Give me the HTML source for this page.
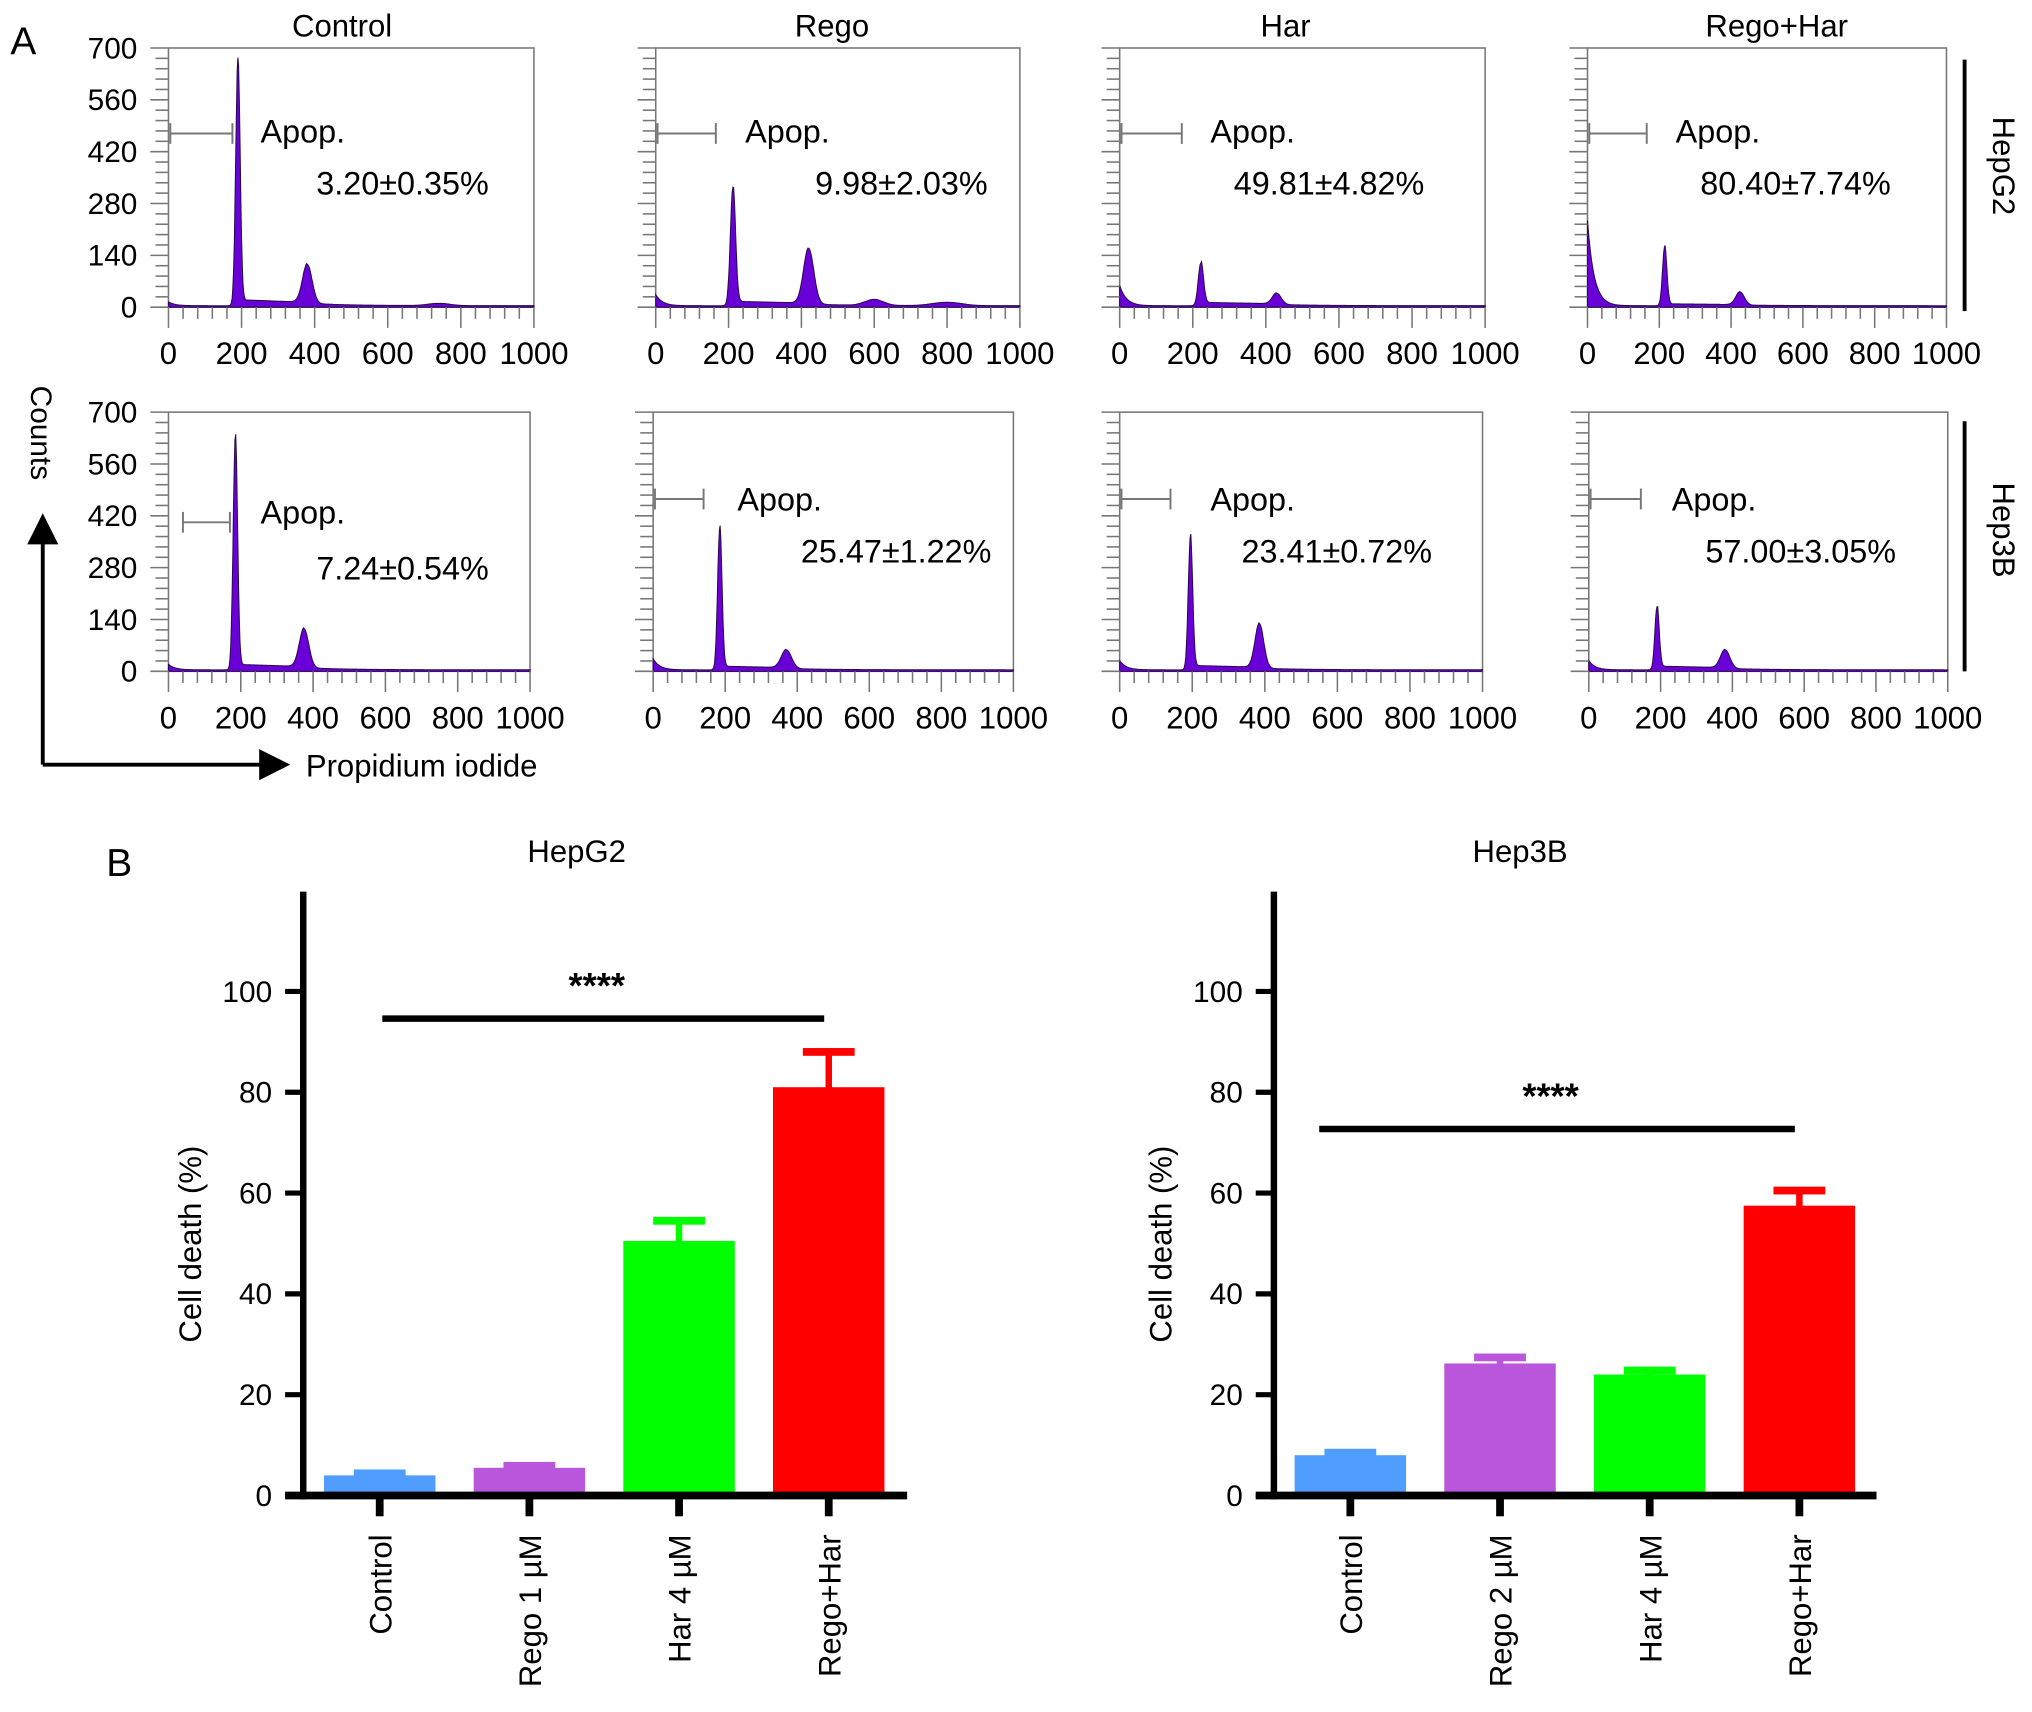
<!DOCTYPE html>
<html><head><meta charset="utf-8">
<style>
html,body{margin:0;padding:0;background:#fff;}
svg{display:block;font-family:"Liberation Sans",Arial,sans-serif;}
</style></head>
<body>
<svg id="fig" width="2032" height="1712" viewBox="0 0 1568 1321" xmlns="http://www.w3.org/2000/svg">
<defs><marker id="arr" markerWidth="8" markerHeight="8" refX="6" refY="4" orient="auto"><path d="M0,0 L8,4 L0,8 z" fill="#000"/></marker></defs>
<text x="8" y="42" font-size="30">A</text>
<text x="82" y="676" font-size="30">B</text>
<text x="264" y="28" font-size="24" text-anchor="middle">Control</text>
<text x="642" y="28" font-size="24" text-anchor="middle">Rego</text>
<text x="992" y="28" font-size="24" text-anchor="middle">Har</text>
<text x="1371" y="28" font-size="24" text-anchor="middle">Rego+Har</text>
<line x1="1516" y1="46" x2="1516" y2="240" stroke="#000" stroke-width="3"/>
<text transform="translate(1538,128) rotate(90)" font-size="24" text-anchor="middle">HepG2</text>
<line x1="1516" y1="325" x2="1516" y2="518" stroke="#000" stroke-width="3"/>
<text transform="translate(1538,409) rotate(90)" font-size="24" text-anchor="middle">Hep3B</text>
<text transform="translate(24,334) rotate(90)" font-size="23" text-anchor="middle">Counts</text>
<path d="M33,590 L33,402" stroke="#000" stroke-width="3" fill="none" marker-end="url(#arr)"/>
<path d="M33,590 L218,590" stroke="#000" stroke-width="3" fill="none" marker-end="url(#arr)"/>
<text x="236" y="599" font-size="24">Propidium iodide</text>
<g id="hists"></g>
<g id="bars"></g>
</svg>
<script>
// ---------- Histogram data (flow cytometry, counts vs PI) ----------
const histTitles = ["Control","Rego","Har","Rego+Har"];
const histApop = ["3.20±0.35%","9.98±2.03%","49.81±4.82%","80.40±7.74%","7.24±0.54%","25.47±1.22%","23.41±0.72%","57.00±3.05%"];
// peaks: [position, height in counts, width]
const histPeaks = [
 [[190,670,6],[380,105,13],[740,6,30]],
 [[212,320,7],[420,150,14],[600,16,25],[800,9,40]],
 [[222,115,7],[430,30,12]],
 [[215,160,6],[425,35,12]],
 [[185,630,6],[375,105,13]],
 [[185,385,6],[370,50,14]],
 [[195,360,6],[385,120,12]],
 [[190,170,6],[380,50,13]]
];
const histDebris = [10,30,55,230,15,30,25,25];   // counts near 0
const histSPhase = [16,12,9,5,15,10,12,10];      // plateau between G1 and G2
const yTicks = [0,140,280,420,560,700];
const xTicks = [0,200,400,600,800,1000];
const gateX = [[5,175],[5,165],[5,170],[5,165],[40,170],[5,140],[5,140],[5,145]];
const panelBoxes = [[130,412,37,237],[506,787,37,237],[864,1146,37,237],[1225,1502,37,237],
                    [130,409,318,518],[504,782,318,518],[864,1144,318,518],[1226,1503,318,518]];
const gateY = [103,103,103,103,403,385,385,385];
const apopPos = [[201,101],[575,101],[934,101],[1293,101],[201,395],[569,385],[934,385],[1290,385]];
const pctPos = [[244,141],[629,141],[952,141],[1312,141],[244,438],[618,425],[958,425],[1316,425]];
const NS="http://www.w3.org/2000/svg";
function mk(tag,attrs,parent){const e=document.createElementNS(NS,tag);for(const k in attrs)e.setAttribute(k,attrs[k]);parent.appendChild(e);return e;}
const hg=document.getElementById('hists');
panelBoxes.forEach((b,i)=>{
  const [x0,x1,y0,y1]=b;
  const sx=v=>x0+(x1-x0)*v/1000, sy=v=>y1-(y1-y0)*v/700;
  const g=mk('g',{},hg);
  
  
  const box=mk('rect',{x:x0,y:y0,width:x1-x0,height:y1-y0,fill:'none',stroke:'#777','stroke-width':1.2},g);
  
  
  let d='M'+sx(0)+','+sy(0);
  const pk=histPeaks[i];
  const g1=pk[0][0], g2=pk[1][0];
  for(let v=0;v<=1000;v+=2){
    let c=histDebris[i]*Math.exp(-v/18)+4;
    if(v>g1&&v<g2) c+=histSPhase[i]*(1-0.4*(v-g1)/(g2-g1));
    if(v>=g2) c+=histSPhase[i]*0.4*Math.exp(-(v-g2)/120);
    pk.forEach(p=>{c+=p[1]*Math.exp(-0.5*Math.pow((v-p[0])/p[2],2));});
    c=Math.min(c,700);
    d+=' L'+sx(v).toFixed(1)+','+sy(c).toFixed(1);
  }
  d+=' L'+sx(1000)+','+sy(0)+' Z';
  const cur=mk('path',{d:d,fill:'#6a00d8',stroke:'#2a0a50','stroke-width':0.8},g);
  
  
  for(let v=0;v<=700;v+=28){mk('line',{x1:x0-(v%140==0?14:10),x2:x0,y1:sy(v),y2:sy(v),stroke:'#777','stroke-width':1.2},g);}
  if(i%4==0) yTicks.forEach(v=>{
    const t=mk('text',{x:x0-24,y:sy(v)+8,'font-size':23,'text-anchor':'end'},g);t.textContent=v;
    });
  for(let v=0;v<=1000;v+=40){mk('line',{x1:sx(v),x2:sx(v),y1:y1,y2:y1+(v%200==0?16:9),stroke:'#777','stroke-width':1.2},g);}
  xTicks.forEach(v=>{
    const t=mk('text',{x:sx(v),y:y1+44,'font-size':24,'text-anchor':'middle'},g);t.textContent=v;
    });
  const gy = gateY[i];
  const ga=sx(gateX[i][0]), gb=sx(gateX[i][1]);
  mk('path',{d:`M${ga},${gy-8}V${gy+8}M${ga},${gy}H${gb}M${gb},${gy-8}V${gy+8}`,stroke:'#777','stroke-width':1.5,fill:'none'},g);
  const ap=mk('text',{x:apopPos[i][0],y:apopPos[i][1]+9,'font-size':25},g);ap.textContent='Apop.';
  
  const pv=mk('text',{x:pctPos[i][0],y:pctPos[i][1]+9,'font-size':25},g);pv.textContent=histApop[i];
  
});

// ---------- Bar charts ----------
const barCats1 = ["Control","Rego 1 µM","Har 4 µM","Rego+Har"];
const barCats2 = ["Control","Rego 2 µM","Har 4 µM","Rego+Har"];
const barVals1 = [4.0,5.5,50.5,81.0];
const barErr1  = [0.4,0.4,4.0,7.0];
const barVals2 = [8.0,26.2,24.0,57.5];
const barErr2  = [0.5,1.2,0.8,3.0];
const barYTicks = [0,20,40,60,80,100];
const barColors = ["#4f9dff","#b956dc","#00ff00","#ff0000"];
const sigLevel1 = 94.6, sigLevel2 = 72.7;
const bg=document.getElementById('bars');
function barChart(name,title,titleX,axX,axEnd,cats,vals,errs,sig,sigFrom,sigTo){
  const g=mk('g',{},bg);
  
  
  const y0=1154, k=3.89;
  const sy=v=>y0-v*k;
  const sx=i=>axX+59+i*115.5;
  const tt=mk('text',{x:titleX,y:665,'font-size':24,'text-anchor':'middle'},g);tt.textContent=title;
  
  vals.forEach((v,i)=>{
    const c=barColors[i];
    const ex=sx(i);
    const e=mk('rect',{x:ex-2.5,y:sy(v+errs[i]),width:5,height:errs[i]*k+1,fill:c},g);
    
    const cap=mk('rect',{x:ex-20,y:sy(v+errs[i])-3,width:40,height:6,fill:c},g);
    
    const r=mk('rect',{x:ex-43,y:sy(v),width:86,height:v*k,fill:c},g);
    
    
    mk('line',{x1:ex,x2:ex,y1:y0,y2:y0+16,stroke:'#000','stroke-width':6},g);
    const lb=mk('text',{transform:`translate(${ex+9},${y0+30}) rotate(-90)`,'font-size':24,'text-anchor':'end'},g);lb.textContent=cats[i];
    
  });
  mk('line',{x1:axX,x2:axX,y1:688,y2:y0+3,stroke:'#000','stroke-width':5},g);
  mk('line',{x1:axX-14,x2:axEnd,y1:y0,y2:y0,stroke:'#000','stroke-width':6},g);
  barYTicks.forEach(v=>{
    mk('line',{x1:axX-14,x2:axX,y1:sy(v),y2:sy(v),stroke:'#000','stroke-width':4},g);
    const t=mk('text',{x:axX-24,y:sy(v)+8,'font-size':23,'text-anchor':'end'},g);t.textContent=v;
    
  });
  const yl=mk('text',{transform:`translate(${axX-79},960) rotate(-90)`,'font-size':24,'text-anchor':'middle'},g);yl.textContent='Cell death (%)';
  
  const sl=mk('line',{x1:sigFrom,x2:sigTo,y1:sy(sig),y2:sy(sig),stroke:'#000','stroke-width':5},g);
  
  const st=mk('text',{x:(sigFrom+sigTo)/2-5,y:sy(sig)-16,'font-size':28,'font-weight':'bold','text-anchor':'middle'},g);st.textContent='****';
  
}
barChart('hepg2-bar-chart','HepG2',445,234,700,barCats1,barVals1,barErr1,sigLevel1,295,636);
barChart('hep3b-bar-chart','Hep3B',1173,983,1448,barCats2,barVals2,barErr2,sigLevel2,1018,1385);
</script>
</body></html>
